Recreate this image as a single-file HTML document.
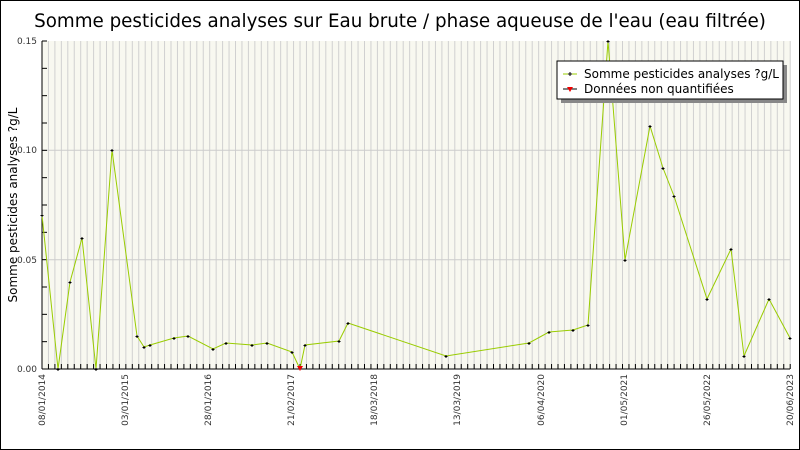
<!DOCTYPE html>
<html><head><meta charset="utf-8"><style>
body{margin:0;background:#fff}
svg{display:block;font-family:"DejaVu Sans","Liberation Sans",sans-serif}
</style></head><body>
<svg width="800" height="450" viewBox="0 0 800 450">
<rect x="0.5" y="0.5" width="799" height="449" fill="#fff" stroke="#000" stroke-width="1"/>
<text x="400" y="27" font-size="18.3" text-anchor="middle" fill="#000">Somme pesticides analyses sur Eau brute / phase aqueuse de l'eau (eau filtrée)</text>
<rect x="42" y="41" width="748" height="328" fill="#f8f8f0"/>
<g id="vg" stroke="#d0d0d0" stroke-width="1"></g>
<line x1="42" y1="150.3" x2="790" y2="150.3" stroke="#ccc"/>
<line x1="42" y1="259.7" x2="790" y2="259.7" stroke="#ccc"/>
<g id="xt" stroke="#000" stroke-width="1"></g>
<g id="yt" stroke="#000" stroke-width="1"></g>
<line x1="42" y1="41" x2="42" y2="369" stroke="#000"/>
<line x1="42" y1="369" x2="790" y2="369" stroke="#000"/>
<g font-size="9" fill="#333" text-anchor="end">
<text x="37" y="44">0.15</text><text x="37" y="153">0.10</text><text x="37" y="263">0.05</text><text x="37" y="372">0.00</text>
</g>
<text transform="translate(17,205) rotate(-90)" font-size="12" text-anchor="middle">Somme pesticides analyses ?g/L</text>
<g font-size="9" fill="#333" text-anchor="end">
<text transform="translate(45,374) rotate(-90)">08/01/2014</text>
<text transform="translate(128,374) rotate(-90)">03/01/2015</text>
<text transform="translate(211,374) rotate(-90)">28/01/2016</text>
<text transform="translate(294,374) rotate(-90)">21/02/2017</text>
<text transform="translate(377,374) rotate(-90)">18/03/2018</text>
<text transform="translate(460,374) rotate(-90)">13/03/2019</text>
<text transform="translate(544,374) rotate(-90)">06/04/2020</text>
<text transform="translate(627,374) rotate(-90)">01/05/2021</text>
<text transform="translate(710,374) rotate(-90)">26/05/2022</text>
<text transform="translate(793,374) rotate(-90)">20/06/2023</text>
</g>
<polyline id="ln" fill="none" stroke="#99cc00" stroke-width="1" points="42,215 58,369 70,282 82,238 96,369 112,150 137,336 144,347 150,345 174,338 188,336 213,349 226,343 252,345 267,343 292,352 300,369 305,345 339,341 348,323 446,356 529,343 549,332 573,330 588,325 608,41 625,260 650,126 663,168 674,196 707,299 731,249 744,356 769,299 790,338"/>
<g id="mk" stroke="#000" stroke-width="1"></g>
<path d="M297,366 L303,366 L300,371 Z" fill="#e00"/>
<rect x="561" y="65" width="226" height="38" fill="#888"/>
<rect x="557" y="61" width="226" height="38" fill="#fff" stroke="#000"/>
<line x1="563" y1="74" x2="577" y2="74" stroke="#99cc00"/><path d="M568,74h4M570,72v4" stroke="#000"/>
<line x1="563" y1="89" x2="577" y2="89" stroke="#000"/><path d="M567,87 L573,87 L570,92Z" fill="#e00"/>
<text x="584" y="78" font-size="12">Somme pesticides analyses ?g/L</text>
<text x="584" y="93" font-size="12">Données non quantifiées</text>
</svg>
<script>
var ns="http://www.w3.org/2000/svg";
var vg=document.getElementById("vg"),xt=document.getElementById("xt"),yt=document.getElementById("yt"),mk=document.getElementById("mk");
for(var x=42;x<=790.5;x+=6.45){var l=document.createElementNS(ns,"line");l.setAttribute("x1",x);l.setAttribute("x2",x);l.setAttribute("y1",41);l.setAttribute("y2",369);vg.appendChild(l);
var t=document.createElementNS(ns,"line");t.setAttribute("x1",x);t.setAttribute("x2",x);t.setAttribute("y1",364);t.setAttribute("y2",369);xt.appendChild(t);}
for(var i=0;i<=12;i++){var y=41+i*328/12;var t=document.createElementNS(ns,"line");t.setAttribute("x1",42);t.setAttribute("x2",47);t.setAttribute("y1",y);t.setAttribute("y2",y);yt.appendChild(t);}
var p=document.getElementById("ln").getAttribute("points").split(" ");
p.forEach(function(s){var a=s.split(",");if(a[0]=="300")return;var x=+a[0],y=+a[1];var r=document.createElementNS(ns,"path");r.setAttribute("d","M"+(x-1.5)+","+(y+0.5)+"h3M"+(x)+","+(y-1)+"v3");mk.appendChild(r);});
</script>
</body></html>
